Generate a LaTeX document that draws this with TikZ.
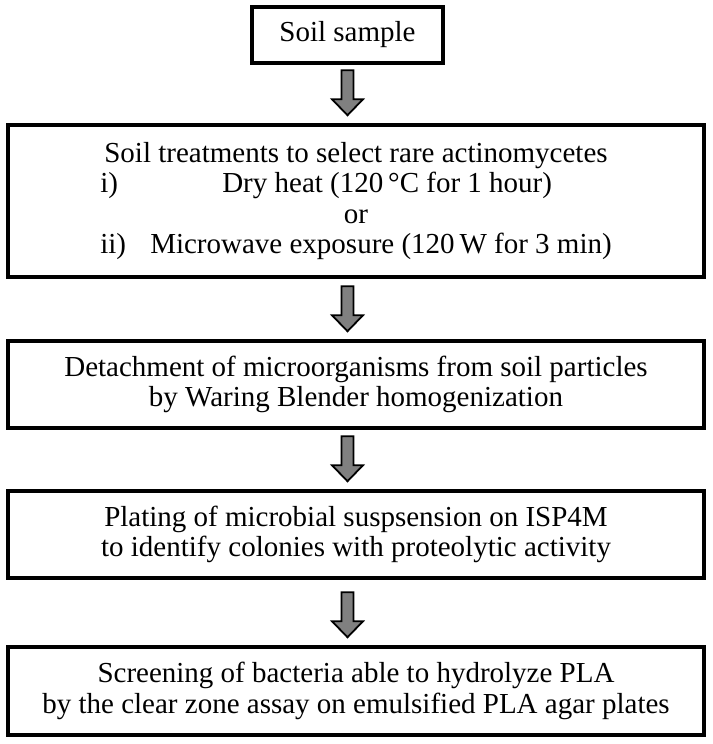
\documentclass[tikz,border=0pt]{standalone}
\usepackage{fontspec}
\setmainfont{Liberation Serif}
\usetikzlibrary{calc}
\definecolor{arrowgray}{RGB}{128,128,128}
\newcommand\boxfont{\fontsize{29}{30.5}\selectfont}
\tikzset{
  stepbox/.style={draw=black, line width=3.5pt, inner sep=0pt, align=center,
    font=\boxfont},
  blockarrow/.style={draw=black, line width=1.8pt, fill=arrowgray, line join=miter},
}
\newlength\lineW
\newcommand\lineiv{\makebox[50pt][l]{ii)}Microwave exposure (120\,W for 3 min)}
\newcommand\blkarrow[2]{%
  \draw[blockarrow] let \p1=(b1.center), \p2=(#1.south), \p3=(#2.north) in
   (\x1-6,\y3+53) -- (\x1+6,\y3+53) -- (\x1+6,\y3+24) -- (\x1+15.5,\y3+24)
   -- (\x1,\y3+8) -- (\x1-15.5,\y3+24) -- (\x1-6,\y3+24) -- cycle;}
\begin{document}
\boxfont\settowidth{\lineW}{\lineiv}%
\begin{tikzpicture}[x=1pt,y=1pt]
\useasboundingbox (0,0) rectangle (712,-744);
\node[stepbox, minimum width=191, minimum height=56] (b1) at (347.5,-35) {Soil sample};
\node[stepbox, minimum width=696, minimum height=152] (b2) at (356,-201)
  {Soil treatments to select rare actinomycetes\\
   \makebox[\lineW][l]{\makebox[122pt][l]{i)}Dry heat (120\,°C for 1 hour)}\\
   or\\
   \lineiv};
\node[stepbox, minimum width=696, minimum height=87] (b3) at (356,-384.5)
  {Detachment of microorganisms from soil particles\\ by Waring Blender homogenization};
\node[stepbox, minimum width=696, minimum height=87] (b4) at (356,-534.5)
  {Plating of microbial suspsension on ISP4M\\ to identify colonies with proteolytic activity};
\node[stepbox, minimum width=696, minimum height=88] (b5) at (356,-691)
  {Screening of bacteria able to hydrolyze PLA\\ by the clear zone assay on emulsified PLA agar plates};
\blkarrow{b1}{b2}
\blkarrow{b2}{b3}
\blkarrow{b3}{b4}
\blkarrow{b4}{b5}
\end{tikzpicture}
\end{document}
